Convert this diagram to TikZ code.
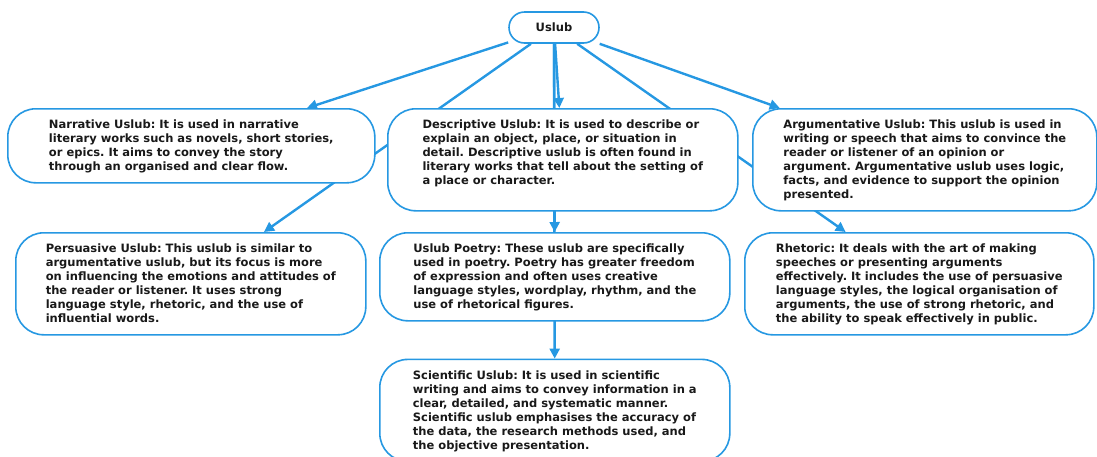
\documentclass[tikz,border=0pt]{standalone}
\usepackage{fontspec}
\setmainfont{DejaVu Sans}
\frenchspacing
\usetikzlibrary{arrows.meta,positioning,backgrounds}
\definecolor{mapblue}{RGB}{38,152,226}
\definecolor{mapink}{RGB}{25,25,25}
\tikzset{
  root/.style={draw=mapblue, line width=1.6pt, fill=white, rounded corners=15.5pt,
    minimum width=90pt, minimum height=31pt, text=mapink,
    font=\bfseries\fontsize{11.5}{14}\selectfont},
  topic/.style={draw=mapblue, line width=1.6pt, fill=white, rounded corners=28pt,
    anchor=north west, align=left, inner xsep=20pt, inner ysep=11pt,
    text depth=1pt, text=mapink, font=\bfseries\fontsize{11.5}{14}\selectfont},
  link/.style={draw=mapblue, line width=2.4pt, -{Triangle[length=10pt,width=10pt]}}
}
\begin{document}
\begin{tikzpicture}[x=1pt, y=-1pt]
  \useasboundingbox (0,0) rectangle (1097,456);
  \node (Uslub) [root] at (554,27.5) {Uslub};
  \node (Narr) [topic, minimum width=367pt, text height=51pt] at (7,108)
    {Narrative Uslub: It is used in narrative\\
     literary works such as novels, short stories,\\
     or epics. It aims to convey the story\\
     through an organised and clear flow.};
  \node (Desc) [topic, minimum width=350pt, text height=65pt, text depth=15pt] at (387,108)
    {Descriptive Uslub: It is used to describe or\\
     explain an object, place, or situation in\\
     detail. Descriptive uslub is often found in\\
     literary works that tell about the setting of\\
     a place or character.};
  \node (Arg) [topic, minimum width=344pt, text height=79pt] at (752,108)
    {Argumentative Uslub: This uslub is used in\\
     writing or speech that aims to convince the\\
     reader or listener of an opinion or\\
     argument. Argumentative uslub uses logic,\\
     facts, and evidence to support the opinion\\
     presented.};
  \node (Pers) [topic, minimum width=350pt, text height=79pt] at (15,232)
    {Persuasive Uslub: This uslub is similar to\\
     argumentative uslub, but its focus is more\\
     on influencing the emotions and attitudes of\\
     the reader or listener. It uses strong\\
     language style, rhetoric, and the use of\\
     influential words.};
  \node (Poet) [topic, minimum width=350pt, text height=65pt] at (379,232)
    {Uslub Poetry: These uslub are specifically\\
     used in poetry. Poetry has greater freedom\\
     of expression and often uses creative\\
     language styles, wordplay, rhythm, and the\\
     use of rhetorical figures.};
  \node (Rhet) [topic, minimum width=349pt, text height=79pt] at (744,232)
    {Rhetoric: It deals with the art of making\\
     speeches or presenting arguments\\
     effectively. It includes the use of persuasive\\
     language styles, the logical organisation of\\
     arguments, the use of strong rhetoric, and\\
     the ability to speak effectively in public.};
  \node (Sci) [topic, minimum width=350pt, text height=79pt,
    below=37pt of Poet.south west, anchor=north west]
    {Scientific Uslub: It is used in scientific\\
     writing and aims to convey information in a\\
     clear, detailed, and systematic manner.\\
     Scientific uslub emphasises the accuracy of\\
     the data, the research methods used, and\\
     the objective presentation.};
  \begin{scope}[on background layer]
    \draw[link] (Uslub) to (Narr);
    \draw[link] (Uslub) to (Pers);
    \draw[link] (Uslub) to (Desc);
    \draw[link] (Uslub) to (Poet);
    \draw[link] (Uslub) to (Sci);
    \draw[link] (Uslub) to (Arg);
    \draw[link] (Uslub) to (Rhet);
  \end{scope}
\end{tikzpicture}
\end{document}
